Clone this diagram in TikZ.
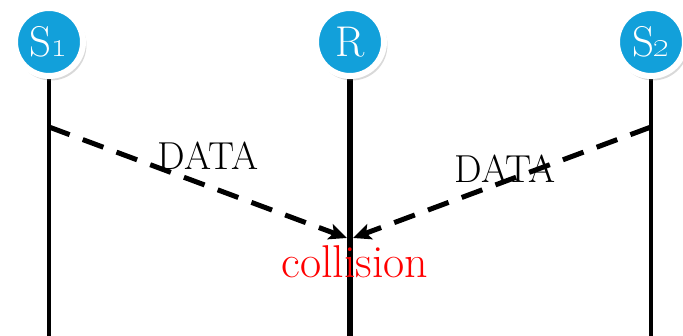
\documentclass[tikz,border=0pt]{standalone}
\usepackage{xcolor}
\usepackage{tikz}
\usetikzlibrary{arrows.meta, positioning, shadows}

\definecolor{stationblue}{RGB}{18,160,218}

\begin{document}
\begin{tikzpicture}[x=1pt, y=1pt,
    station/.style={circle, minimum size=68pt, inner sep=0pt, fill=stationblue,
        draw=white, line width=6pt, text=white, font=\fontsize{43}{43}\selectfont,
        drop shadow={shadow xshift=2pt, shadow yshift=-3pt, shadow scale=1.04,
            opacity=0.3}},
    lifeline/.style={line width=4.5pt},
    frame/.style={dash pattern=on 22pt off 14pt, line width=5pt,
        -{Stealth[length=18pt, width=16pt, inset=4pt]}},
    msg/.style={font=\fontsize{39}{39}\selectfont}]
    \useasboundingbox (0,0) rectangle (683,336);

    % time lines of the two senders and the receiver
    \draw[lifeline] (49,0) -- (49,270);
    \draw[lifeline, line width=6pt] (350,0) -- (350,270);
    \draw[lifeline] (651,0) -- (651,270);

    % stations
    \node[station] (s1) at (49,294) {S\oldstylenums{1}};
    \node[station] (r) at (350,294) {R};
    \node[station] (s2) at (651,294) {S\oldstylenums{2}};

    % labels
    \node[msg] (data1) at (208,180) {DATA};
    \node[msg] (data2) at (505,167) {DATA};
    \node[font=\fontsize{46}{46}\selectfont, text=red] (coll) at (355,74) {collision};

    % both frames meet at R
    \coordinate (tx1) at (49,209);
    \coordinate (tx2) at (651,209);
    \coordinate (rx1) at (347,98);
    \coordinate (rx2) at (353,98);
    \draw[frame] (tx1) -- (rx1);
    \draw[frame] (tx2) -- (rx2);
\end{tikzpicture}
\end{document}
